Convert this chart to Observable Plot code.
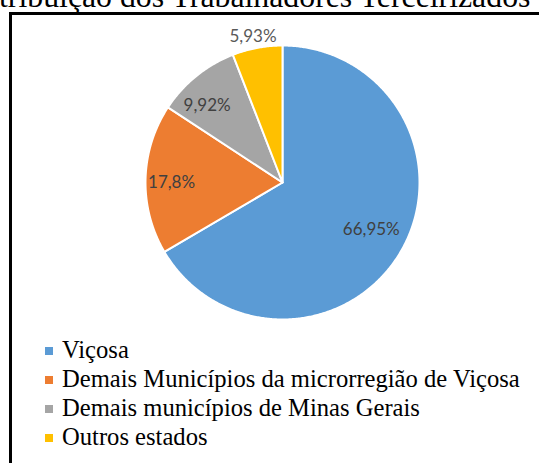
<!DOCTYPE html>
<html>
<head>
<meta charset="utf-8">
<script src="https://cdn.jsdelivr.net/npm/d3@7"></script>
<script src="https://cdn.jsdelivr.net/npm/@observablehq/plot@0.6"></script>
<style>
  html, body { margin: 0; padding: 0; background: #fff; }
  body { width: 539px; height: 463px; overflow: hidden; position: relative; }
  #title { position: absolute; left: -1px; top: -19px; font-family: "Liberation Serif", serif; font-size: 31.8px; line-height: 32px; white-space: nowrap; color: #000; }
  #frame { position: absolute; left: 9px; top: 12px; width: 700px; height: 700px; border-left: 3px solid #000; border-top: 3px solid #000; box-sizing: border-box; }
  #chart { position: absolute; left: 0; top: 0; }
  #legend { position: absolute; left: 45px; top: 335px; width: 490px; }
  #legend, #legend * { font-family: "Liberation Serif", serif !important; font-size: 24.6px !important; color: #000; }
  #legend .lg-swatches { margin: 0 !important; }
  #legend .lg-swatch { height: 29px; line-height: 29px !important; padding-bottom: 0; display: flex; align-items: center; }
  #legend .lg-swatch svg { margin-right: 9px; position: relative; top: 1px; }
  #legend .lg-swatch-label { overflow: visible; white-space: nowrap; }
</style>
</head>
<body>
<div id="title">tribuição dos Trabalhadores Terceirizados</div>
<div id="chart"></div>
<div id="legend"></div>
<div id="frame"></div>
<script>
// ---- data ----
const categories = [
  "Viçosa",
  "Demais Municípios da microrregião de Viçosa",
  "Demais municípios de Minas Gerais",
  "Outros estados"
];
const shares = [66.95, 17.8, 9.92, 5.93];
const shareLabels = ["66,95%", "17,8%", "9,92%", "5,93%"];

// ---- style ----
const palette = ["#5B9BD5", "#ED7D31", "#A5A5A5", "#FFC000"];
const R = 137, cx = 282, cy = 182;
// label placement (radius fraction, pixel nudges)
const labelRadius = [0.73, 0.81, 0.77, 1.09];
const labelNudge = [[2, -3], [0, 3], [-9, 5], [-2, 1]];

const arcs = d3.pie().sort(null).value(d => d)(shares);

const slicePoints = arcs.flatMap((a, i) => {
  const n = Math.max(2, Math.ceil((a.endAngle - a.startAngle) / (Math.PI / 360)));
  const pts = [{cat: categories[i], x: 0, y: 0}];
  for (let k = 0; k <= n; k++) {
    const t = a.startAngle + (a.endAngle - a.startAngle) * k / n;
    pts.push({cat: categories[i], x: Math.sin(t), y: Math.cos(t)});
  }
  pts.push({cat: categories[i], x: 0, y: 0});
  return pts;
});

const labelData = arcs.map((a, i) => {
  const m = (a.startAngle + a.endAngle) / 2;
  const r = labelRadius[i];
  return {
    label: shareLabels[i],
    x: r * Math.sin(m) + labelNudge[i][0] / R,
    y: r * Math.cos(m) - labelNudge[i][1] / R,
    outside: r > 1
  };
});

const plot = Plot.plot({
  width: 539,
  height: 335,
  margin: 0,
  x: {domain: [-1, 1], range: [cx - R, cx + R], axis: null},
  y: {domain: [-1, 1], range: [cy + R, cy - R], axis: null},
  color: {domain: categories, range: palette},
  style: {background: "transparent", overflow: "visible"},
  marks: [
    Plot.line(slicePoints, {x: "x", y: "y", z: "cat", fill: "cat", stroke: "white", strokeWidth: 2, curve: "linear"}),
    Plot.text(labelData.filter(d => !d.outside), {x: "x", y: "y", text: "label", fill: "#404040", fontSize: 17, fontFamily: "Lato"}),
    Plot.text(labelData.filter(d => d.outside), {x: "x", y: "y", text: "label", fill: "#595959", fontSize: 17, fontFamily: "Lato"})
  ]
});
document.getElementById("chart").appendChild(plot);

const legend = Plot.legend({
  color: {domain: categories, range: palette},
  legend: "swatches",
  columns: 1,
  swatchSize: 8,
  className: "lg"
});
document.getElementById("legend").appendChild(legend);
</script>
</body>
</html>
